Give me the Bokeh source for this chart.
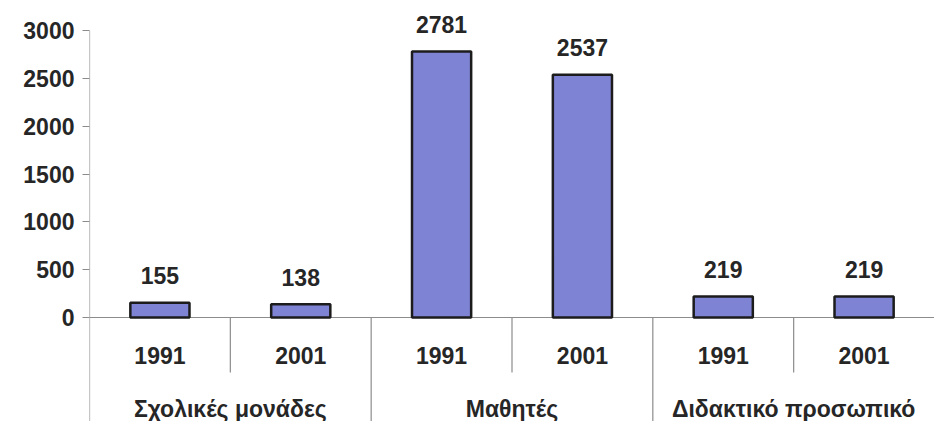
from bokeh.plotting import figure
from bokeh.models import Range1d, FixedTicker, ColumnDataSource
from bokeh.core.properties import value
from bokeh.embed import file_html
from bokeh.resources import INLINE

groups = ["Σχολικές μονάδες", "Μαθητές", "Διδακτικό προσωπικό"]
years = ["1991", "2001", "1991", "2001", "1991", "2001"]
values = [155, 138, 2781, 2537, 219, 219]
y_ticks = [0, 500, 1000, 1500, 2000, 2500, 3000]

FONT = value("Liberation Sans")
TXT = "#262626"
GRID = "#8c8c8c"

Y_BOTTOM = -1087

xs = [i + 0.5 for i in range(len(values))]
src = ColumnDataSource(dict(x=xs, top=values, lab=[str(v) for v in values], year=years))

p = figure(width=934, height=421, output_backend="svg", toolbar_location=None,
           x_range=Range1d(0, 6), y_range=Range1d(Y_BOTTOM, 3314),
           min_border_left=89, min_border_right=0, min_border_top=0, min_border_bottom=0)
p.outline_line_color = None
p.xaxis.visible = False
p.xgrid.visible = False
p.ygrid.visible = False
p.background_fill_color = "white"

ax = p.yaxis[0]
ax.ticker = FixedTicker(ticks=y_ticks)
ax.axis_line_color = None
ax.major_tick_line_color = GRID
ax.major_tick_out = 7
ax.major_tick_in = 0
ax.minor_tick_line_color = None
ax.major_label_standoff = 8
ax.major_label_text_font = "Liberation Sans"
ax.major_label_text_font_style = "bold"
ax.major_label_text_font_size = "23px"
ax.major_label_text_color = TXT

# axis lines and separators
p.segment(x0=[0], y0=[Y_BOTTOM], x1=[0], y1=[y_ticks[-1]], line_color=GRID, line_width=1.2)
p.segment(x0=[0], y0=[0], x1=[6], y1=[0], line_color=GRID, line_width=1.2)
p.segment(x0=[1, 3, 5], y0=[0, 0, 0], x1=[1, 3, 5], y1=[-575, -575, -575], line_color=GRID, line_width=1.2)
p.segment(x0=[2, 4], y0=[0, 0], x1=[2, 4], y1=[Y_BOTTOM, Y_BOTTOM], line_color=GRID, line_width=1.2)

p.vbar(x="x", top="top", bottom=0, width=0.42, source=src,
       fill_color="#7f83d4", line_color="#1c1c1c", line_width=2.5)

p.text(x="x", y="top", text="lab", source=src, y_offset=-27,
       text_align="center", text_baseline="alphabetic",
       text_font=FONT, text_font_style="bold", text_font_size="23px", text_color=TXT)

p.text(x="x", y=-397, text="year", source=src,
       text_align="center", text_baseline="middle",
       text_font=FONT, text_font_style="bold", text_font_size="23px", text_color=TXT)

p.text(x=[1, 3, 5], y=[-955] * 3, text=groups,
       text_align="center", text_baseline="alphabetic",
       text_font=FONT, text_font_style="bold", text_font_size="23px", text_color=TXT)

open("out.html", "w").write(file_html(p, INLINE))
